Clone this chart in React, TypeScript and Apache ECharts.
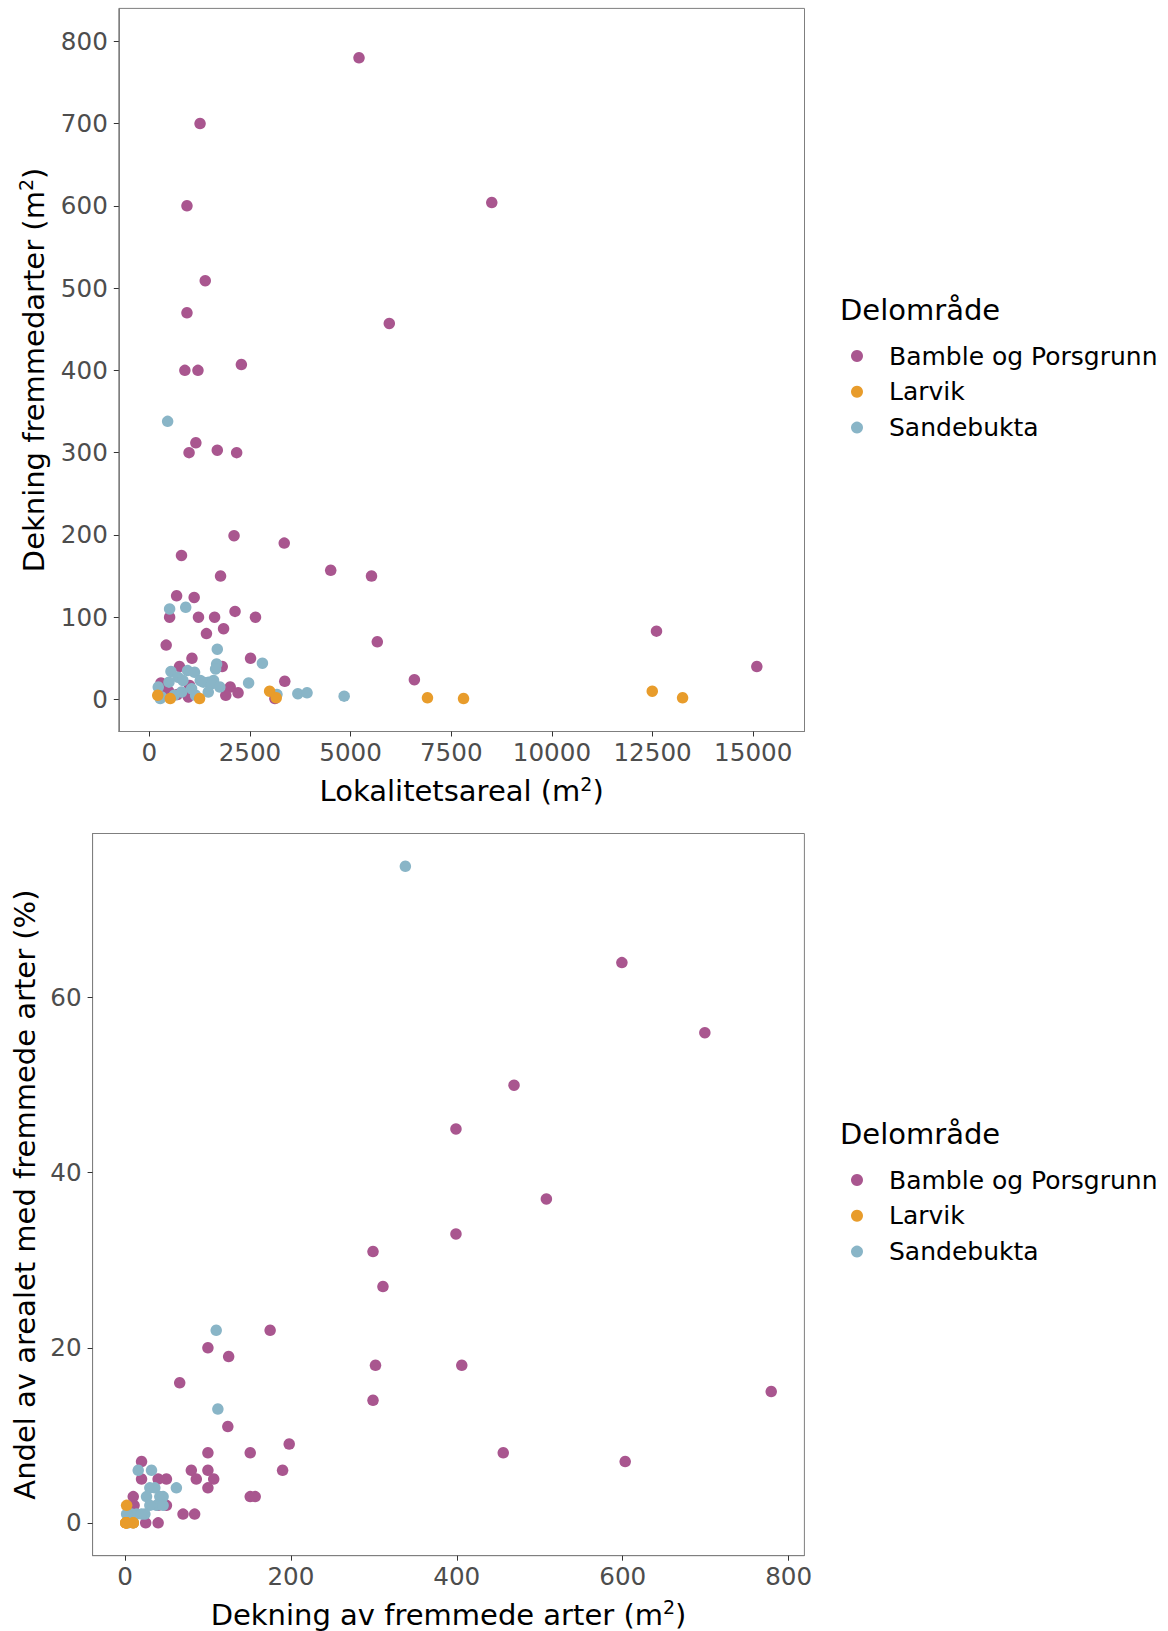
import { useEffect, useRef } from "react";
import * as echarts from "echarts";

// Delområde groups and their colours
const groupNames = ["Bamble og Porsgrunn", "Larvik", "Sandebukta"];
const groupColors = ["#A9568F", "#E89C2B", "#89B5C7"];

// Upper panel: [Lokalitetsareal (m2), Dekning fremmedarter (m2)]
const bambleArealDekning = [
  [5209, 780], [1261, 700], [936, 600], [8506, 604], [1390, 509], [936, 470],
  [5961, 457], [884, 400], [1209, 400], [2287, 407], [1157, 312], [988, 300],
  [1689, 303], [2170, 300], [2105, 199], [3352, 190], [800, 175], [4506, 157],
  [5519, 150], [1770, 150], [679, 126], [1115, 124], [2130, 107], [505, 100],
  [1222, 100], [1622, 100], [2638, 100], [1845, 86], [1420, 80], [5663, 70],
  [420, 66], [12597, 83], [15089, 40], [1060, 50], [2515, 50], [750, 40],
  [1812, 40], [6584, 24], [3365, 22], [290, 20], [400, 12], [480, 10],
  [1000, 17], [2010, 15], [2205, 8], [1900, 5], [970, 3], [3120, 1], [700, 6],
];
const larvikArealDekning = [
  [12492, 10], [13245, 2], [6909, 2], [7805, 1], [2989, 10], [3153, 2],
  [1249, 1], [521, 1], [210, 5],
];
const sandebuktaArealDekning = [
  [456, 338], [505, 110], [905, 112], [1689, 61], [1672, 43], [1647, 37],
  [2810, 44], [2467, 20], [3690, 7], [3918, 8], [4840, 4], [3170, 6],
  [539, 34], [951, 35], [1125, 33], [712, 27], [836, 23], [1266, 23],
  [1473, 21], [1597, 23], [489, 21], [1341, 21], [1548, 19], [1752, 15],
  [803, 9], [1051, 13], [1465, 9], [223, 15], [306, 3], [273, 1], [620, 5],
  [1150, 5],
];

// Lower panel: [Dekning av fremmede arter (m2), Andel av arealet (%)]
const bambleDekningAndel = [
  [599, 64], [699, 56], [469, 50], [399, 45], [508, 37], [399, 33], [299, 31],
  [311, 27], [175, 22], [100, 20], [125, 19], [302, 18], [406, 18], [66, 16],
  [299, 14], [779, 15], [124, 11], [198, 9], [100, 8], [151, 8], [456, 8],
  [603, 7], [20, 7], [80, 6], [100, 6], [190, 6], [20, 5], [40, 5], [50, 5],
  [86, 5], [107, 5], [100, 4], [151, 3], [157, 3], [10, 3], [11, 2], [40, 2],
  [50, 2], [70, 1], [84, 1], [25, 0], [40, 0],
];
const larvikDekningAndel = [
  [2, 2], [1, 0], [2, 0], [2, 0], [1, 0], [1, 0], [10, 0], [10, 0], [2, 0],
];
const sandebuktaDekningAndel = [
  [338, 75], [110, 22], [112, 13], [16, 6], [32, 6], [62, 4], [30, 4],
  [36, 4], [42, 3], [46, 3], [26, 3], [38, 2], [30, 2], [24, 1], [14, 1],
  [8, 1], [2, 1], [10, 0], [20, 1], [46, 2], [4, 0],
];

// Tick positions
const arealTicks = [0, 2500, 5000, 7500, 10000, 12500, 15000];
const dekningTicks = [0, 100, 200, 300, 400, 500, 600, 700, 800];
const dekningTicksLower = [0, 200, 400, 600, 800];
const andelTicks = [0, 20, 40, 60];

const FONT = "DejaVu Sans";
const TICK_TEXT = 24.6;
const LEGEND_TEXT = 25;
const TITLE_TEXT = 29;

const titleRich = {
  t: { fontFamily: FONT, fontSize: TITLE_TEXT, color: "#000", lineHeight: 34 },
  s: { fontFamily: FONT, fontSize: 19, color: "#000", lineHeight: 20, verticalAlign: "top" },
};

function valueAxis(
  gridIndex: number,
  min: number,
  max: number,
  ticks: number[],
  name: string,
  nameGap: number,
  labelMargin: number
) {
  return {
    type: "value",
    gridIndex,
    min,
    max,
    name,
    nameLocation: "middle",
    nameGap,
    nameTextStyle: { rich: titleRich },
    splitLine: { show: false },
    axisLine: { show: true, onZero: false, lineStyle: { color: "#7f7f7f", width: 1 } },
    axisTick: {
      show: true,
      customValues: ticks,
      length: 5,
      lineStyle: { color: "#333333", width: 1 },
    },
    axisLabel: {
      customValues: ticks,
      margin: labelMargin,
      formatter: (v: number) => String(v),
      fontFamily: FONT,
      fontSize: TICK_TEXT,
      color: "#4D4D4D",
    },
  };
}

function scatter(name: string, data: number[][], panel: number) {
  const idx = groupNames.indexOf(name);
  return {
    type: "scatter",
    name,
    data,
    xAxisIndex: panel,
    yAxisIndex: panel,
    symbol: "circle",
    symbolSize: 11.5,
    itemStyle: { color: groupColors[idx], opacity: 1 },
    emphasis: { disabled: true },
  };
}

function legendBlock(top: number) {
  return {
    orient: "vertical",
    left: 846,
    top,
    data: groupNames,
    icon: "circle",
    itemWidth: 54,
    itemHeight: 12,
    itemGap: 10.8,
    selectedMode: false,
    textStyle: { fontFamily: FONT, fontSize: LEGEND_TEXT, color: "#000", lineHeight: 24.5 },
  };
}

export default function App() {
  const ref = useRef<HTMLDivElement>(null);

  useEffect(() => {
    if (!ref.current) return;
    const chart = echarts.init(ref.current, null, { renderer: "svg" });
    chart.setOption({
      animation: false,
      backgroundColor: "#ffffff",
      grid: [
        {
          left: 118.8, top: 8.4, width: 685.7, height: 723.1,
          show: true, borderColor: "#7f7f7f", borderWidth: 1, backgroundColor: "transparent",
        },
        {
          left: 92.6, top: 833.5, width: 711.8, height: 722.2,
          show: true, borderColor: "#7f7f7f", borderWidth: 1, backgroundColor: "transparent",
        },
      ],
      xAxis: [
        valueAxis(0, -757, 16273, arealTicks, "{t|Lokalitetsareal (m}{s|2}{t|)}", 42.5, 8),
        valueAxis(1, -39, 819, dekningTicksLower, "{t|Dekning av fremmede arter (m}{s|2}{t|)}", 42, 8),
      ],
      yAxis: [
        valueAxis(0, -39, 840, dekningTicks, "{t|Dekning fremmedarter (m}{s|2}{t|)}", 68, 11),
        valueAxis(1, -3.75, 78.75, andelTicks, "{t|Andel av arealet med fremmede arter (%)}", 49, 11),
      ],
      legend: [legendBlock(338.5), legendBlock(1162.5)],
      graphic: [
        {
          type: "text", left: 840, top: 295,
          style: { text: "Delområde", fontFamily: FONT, fontSize: TITLE_TEXT, fill: "#000" },
        },
        {
          type: "text", left: 840, top: 1119.5,
          style: { text: "Delområde", fontFamily: FONT, fontSize: TITLE_TEXT, fill: "#000" },
        },
      ],
      series: [
        scatter("Bamble og Porsgrunn", bambleArealDekning, 0),
        scatter("Sandebukta", sandebuktaArealDekning, 0),
        scatter("Larvik", larvikArealDekning, 0),
        scatter("Bamble og Porsgrunn", bambleDekningAndel, 1),
        scatter("Sandebukta", sandebuktaDekningAndel, 1),
        scatter("Larvik", larvikDekningAndel, 1),
      ],
    });
    return () => chart.dispose();
  }, []);

  return (
    <div
      ref={ref}
      style={{ position: "absolute", left: 0, top: 0, width: 1168, height: 1631 }}
    />
  );
}
